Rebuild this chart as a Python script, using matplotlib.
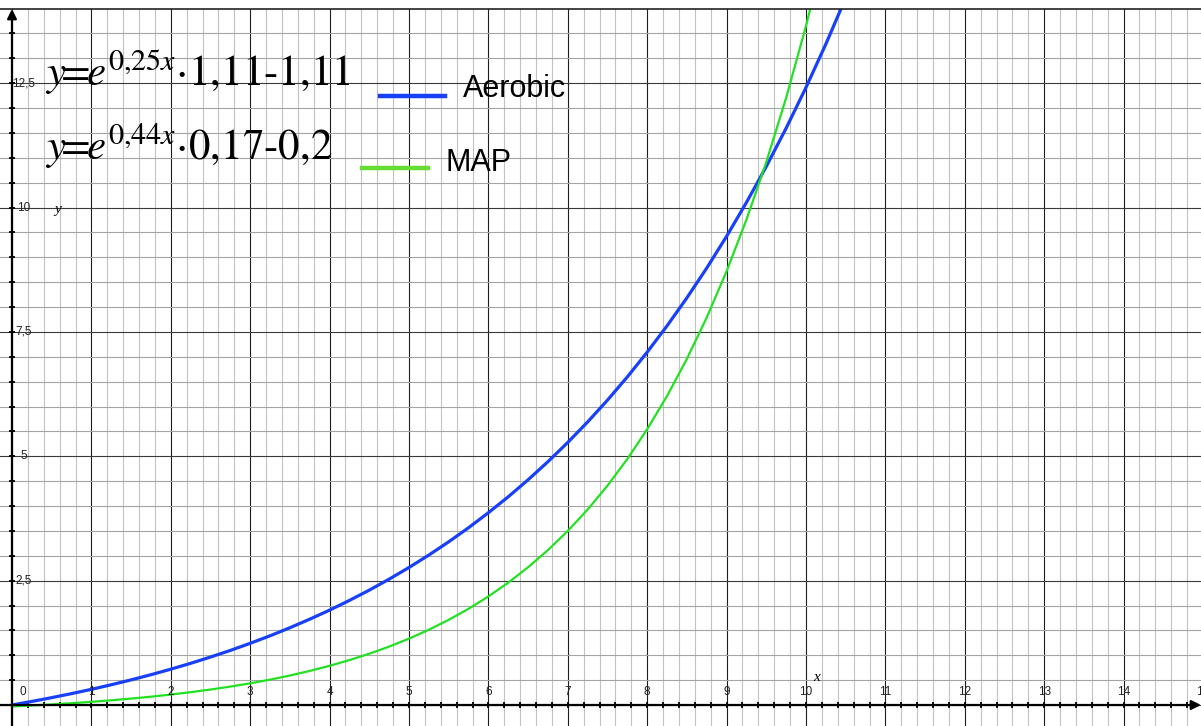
import numpy as np
import matplotlib
matplotlib.use("Agg")
import matplotlib.pyplot as plt
from matplotlib.ticker import MultipleLocator
from matplotlib.lines import Line2D

# ---- data ----
x_vals = [0, 0.25, 0.5, 0.75, 1, 1.25, 1.5, 1.75, 2, 2.25, 2.5, 2.75, 3, 3.25, 3.5, 3.75,
          4, 4.25, 4.5, 4.75, 5, 5.25, 5.5, 5.75, 6, 6.25, 6.5, 6.75, 7, 7.25, 7.5, 7.75,
          8, 8.25, 8.5, 8.75, 9, 9.25, 9.5, 9.75, 10, 10.25, 10.5]
aerobic = [0.0, 0.072, 0.148, 0.229, 0.315, 0.407, 0.505, 0.609, 0.720, 0.838, 0.964, 1.097,
           1.240, 1.391, 1.553, 1.725, 1.907, 2.102, 2.309, 2.530, 2.764, 3.014, 3.280, 3.563,
           3.865, 4.185, 4.527, 4.891, 5.278, 5.690, 6.128, 6.595, 7.092, 7.621, 8.184, 8.783,
           9.421, 10.101, 10.824, 11.594, 12.413, 13.284, 14.213]
map_vals = [-0.03, -0.010, 0.012, 0.036, 0.064, 0.095, 0.129, 0.167, 0.210, 0.258, 0.311, 0.370,
            0.436, 0.510, 0.593, 0.685, 0.788, 0.903, 1.031, 1.174, 1.334, 1.513, 1.712, 1.934,
            2.182, 2.459, 2.769, 3.114, 3.499, 3.929, 4.409, 4.945, 5.543, 6.211, 6.957, 7.789,
            8.718, 9.755, 10.912, 12.204, 13.647, 15.257, 17.05]
x_tick_labels = [str(i) for i in range(0, 16)]
x_tick_values = list(range(0, 16))
y_tick_values = [2.5, 5, 7.5, 10, 12.5]
y_tick_labels = ["2,5", "5", "7,5", "10", "12,5"]
series_names = ["Aerobic", "MAP"]
eq_aerobic = r"$y\!\!=\!\!e^{0{,}25x}{\cdot}1{,}11\text{-}1{,}11$"
eq_map = r"$y\!\!=\!\!e^{0{,}44x}{\cdot}0{,}17\text{-}0{,}2$"

BLUE = "#1840f8"
GREEN = "#22e022"
GREEN_LEG = "#66dd33"

plt.rcParams["mathtext.fontset"] = "stix"

fig = plt.figure(figsize=(12.01, 7.26), dpi=100)
ax = fig.add_axes([0, 0, 1, 717 / 726])
ax.set_xlim(-0.151, 14.975)
ax.set_ylim(-0.422, 13.99)

# grid
ax.xaxis.set_major_locator(MultipleLocator(1))
ax.xaxis.set_minor_locator(MultipleLocator(0.2))
ax.yaxis.set_major_locator(MultipleLocator(2.5))
ax.yaxis.set_minor_locator(MultipleLocator(0.5))
ax.grid(which="minor", axis="x", color="#c2c2c2", lw=0.8)
ax.grid(which="minor", axis="y", color="#a4a4a4", lw=0.8)
ax.grid(which="major", axis="x", color="#1e1e1e", lw=0.8)
ax.grid(which="major", axis="y", color="#3a3a3a", lw=0.8)
ax.set_axisbelow(True)
ax.tick_params(which="both", length=0, labelbottom=False, labelleft=False)
for s in ["left", "right", "bottom"]:
    ax.spines[s].set_visible(False)
ax.spines["top"].set_color("#222222")
ax.spines["top"].set_linewidth(1.2)

# axes with arrows
ax.annotate("", xy=(14.975, 0), xytext=(-0.151, 0), xycoords="data",
            arrowprops=dict(arrowstyle="-|>", color="black", lw=1.6,
                            mutation_scale=14, shrinkA=0, shrinkB=0))
ax.annotate("", xy=(0, 13.99), xytext=(0, -0.422), xycoords="data",
            arrowprops=dict(arrowstyle="-|>", color="black", lw=1.6,
                            mutation_scale=14, shrinkA=0, shrinkB=0))

# small tick marks on axes
xt = np.arange(0.2, 14.9, 0.2)
ax.plot(xt, np.zeros_like(xt), ls="none", marker="|", ms=5, mew=1.3, color="black")
yt = np.arange(0.5, 13.9, 0.5)
ax.plot(np.zeros_like(yt), yt, ls="none", marker="_", ms=5, mew=1.3, color="black")

# tick labels
for v, lab in zip(x_tick_values, x_tick_labels):
    xx = v if v != 0 else 0.14
    ax.text(xx, 0.26, lab, ha="center", va="center", fontsize=8.5,
            family="Liberation Sans", color="#222222")
for v, lab in zip(y_tick_values, y_tick_labels):
    ax.text(0.145, v, lab, ha="center", va="center", fontsize=8.5,
            family="Liberation Sans", color="#222222")

ax.text(0.57, 9.95, "y", ha="center", va="center", fontsize=11,
        family="Liberation Serif", style="italic")
ax.text(10.13, 0.56, "x", ha="center", va="center", fontsize=11,
        family="Liberation Serif", style="italic")

# curves
ax.plot(x_vals, aerobic, color=BLUE, lw=2.3, solid_capstyle="round")
ax.plot(x_vals, map_vals, color=GREEN, lw=1.6, solid_capstyle="round")

# equations
ax.text(45 / 1201, (726 - 86) / 717, eq_aerobic, transform=ax.transAxes,
        ha="left", va="baseline", fontsize=31)
ax.text(45 / 1201, (726 - 160) / 717, eq_map, transform=ax.transAxes,
        ha="left", va="baseline", fontsize=31)

# legend-like entries
ax.add_line(Line2D([380 / 1201, 445 / 1201], [(726 - 96) / 717] * 2,
                   transform=ax.transAxes, color=BLUE, lw=3.2))
ax.text(463 / 1201, (726 - 97) / 717, series_names[0], transform=ax.transAxes,
        ha="left", va="baseline", fontsize=22, family="Liberation Sans")
ax.add_line(Line2D([362 / 1201, 428 / 1201], [(726 - 168) / 717] * 2,
                   transform=ax.transAxes, color=GREEN_LEG, lw=3.2))
ax.text(446 / 1201, (726 - 171) / 717, series_names[1], transform=ax.transAxes,
        ha="left", va="baseline", fontsize=22, family="Liberation Sans")

fig.savefig("out.png", dpi=100)
